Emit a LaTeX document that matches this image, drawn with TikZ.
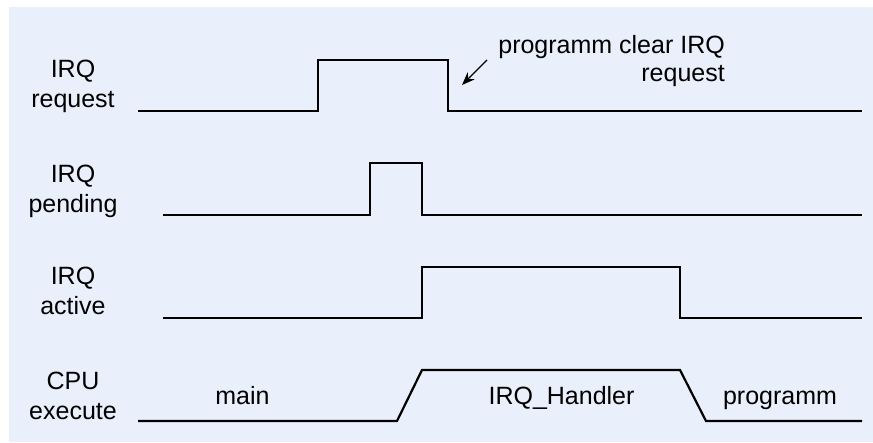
\documentclass[tikz,border=0pt]{standalone}
\usepackage{fontspec}
\setmainfont{Liberation Sans}
\usetikzlibrary{arrows.meta}
\definecolor{bgblue}{RGB}{233,240,251}
\begin{document}
\begin{tikzpicture}[x=1pt,y=-1pt,
  sig/.style={line width=2.2pt,line join=miter,black},
  lbl/.style={font=\fontsize{25}{30}\selectfont,inner sep=0pt,align=center,anchor=north},
  seglbl/.style={font=\fontsize{25}{30}\selectfont,inner sep=0pt,anchor=base},
  note/.style={font=\fontsize{25}{28}\selectfont,inner sep=0pt,align=right,anchor=north east}]
\useasboundingbox (0,0) rectangle (873,442);
\fill[bgblue] (9,7) rectangle (873,442);
% labels
\node[lbl] (lreq) at (73,60) {IRQ\\request};
\node[lbl] (lpend) at (73,165) {IRQ\\pending};
\node[lbl] (lact) at (73,267) {IRQ\\active};
\node[lbl] (lcpu) at (73,372) {CPU\\execute};
% IRQ request
\draw[sig] (138,111) -- (318,111) -- (318,60) -- (448,60) -- (448,111) -- (862,111);
% IRQ pending
\draw[sig] (163,215) -- (370,215) -- (370,163) -- (422,163) -- (422,215) -- (862,215);
% IRQ active
\draw[sig] (163,318) -- (422,318) -- (422,267) -- (680,267) -- (680,318) -- (862,318);
% CPU execute
\draw[sig] (138,421) -- (397,421) -- (422,370) -- (680,370) -- (706,421) -- (862,421);
\node[seglbl] (tmain) at (242.5,404) {main};
\node[seglbl] (thand) at (561.5,404) {IRQ\_Handler};
\node[seglbl] (tprog) at (780,404) {programm};
% annotation
\node[note] (tnote) at (725,35) {programm clear IRQ\\request};
\coordinate (aS) at (487,60);
\coordinate (aE) at (462,85);
\draw[line width=1.3pt,-{Stealth[length=13pt,width=10pt]}] (aS) -- (aE);
\end{tikzpicture}
\end{document}
